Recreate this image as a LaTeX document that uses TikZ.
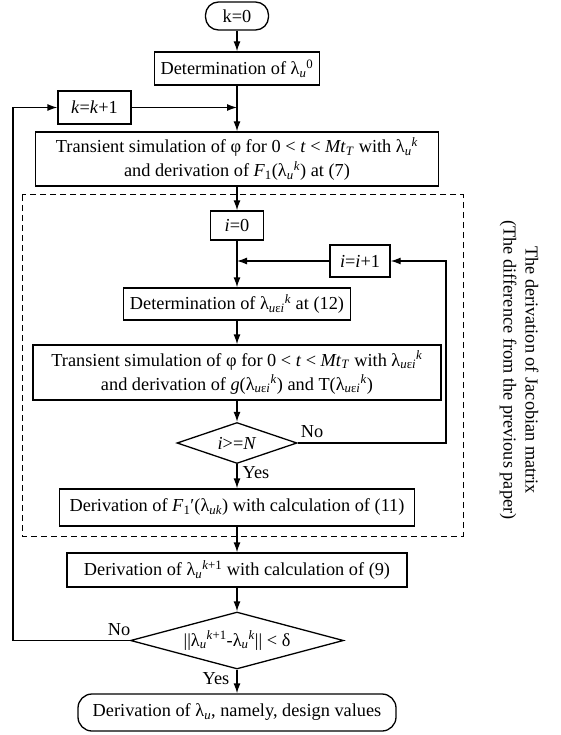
\documentclass[tikz,border=0pt]{standalone}
\usepackage{fontspec}
\setmainfont{Liberation Serif}
\usetikzlibrary{shapes.geometric,arrows.meta}
\newcommand{\mysub}[1]{\textsubscript{#1}}
\newcommand{\mysup}[1]{\textsuperscript{#1}}
\newcommand{\lu}{λ\mysub{\textit{u}}}
\newcommand{\luei}{λ\mysub{\textit{u}ε\textit{i}}}
\begin{document}
\begin{tikzpicture}[x=1pt,y=-1pt, font=\fontsize{18.3}{24}\selectfont, line width=1.3pt,
  box/.style={draw, rectangle, inner sep=0pt, align=center},
  term/.style={draw, rectangle, rounded corners=13pt, inner sep=0pt},
  dec/.style={draw, diamond, inner sep=0pt},
  arr/.style={-{Latex[length=10pt,width=7pt]}},
  lbl/.style={inner sep=0pt}]
\useasboundingbox (0,0) rectangle (560,735);
% dashed frame
\draw[line width=1pt, dash pattern=on 6pt off 4pt] (22,195) rectangle (463,536);
% nodes
\node[term, minimum width=63pt, minimum height=28pt] (k0) at (237,16) {k=0};
\node[box, minimum width=165pt, minimum height=33pt] (det0) at (237,68.5) {Determination of \lu\mysup{0}};
\node[box, minimum width=73pt, minimum height=33pt] (kk) at (94.5,107.5) {\textit{k}=\textit{k}+1};
\coordinate (jk) at (237,107.5);
\node[box, minimum width=403pt, minimum height=54pt] (tr1) at (237,159)
  {Transient simulation of φ for 0 < \textit{t} < \textit{Mt}\mysub{\textit{T}} with \lu\mysup{\textit{k}}\\
   and derivation of \textit{F}\mysub{1}(\lu\mysup{\textit{k}}) at (7)};
\node[box, minimum width=53pt, minimum height=29pt] (i0) at (237,225.5) {\textit{i}=0};
\node[box, minimum width=60pt, minimum height=32pt] (ii) at (360,261) {\textit{i}=\textit{i}+1};
\coordinate (ji) at (237,261);
\node[box, minimum width=227pt, minimum height=32pt] (deti) at (237,304) {Determination of \luei\mysup{\textit{k}} at (12)};
\node[box, minimum width=408pt, minimum height=55pt] (tr2) at (237,372.5)
  {Transient simulation of φ for 0 < \textit{t} < \textit{Mt}\mysub{\textit{T}} with \luei\mysup{\textit{k}}\\
   and derivation of \textit{g}(\luei\mysup{\textit{k}}) and T(\luei\mysup{\textit{k}})};
\node[dec, minimum width=120pt, minimum height=41pt] (d1) at (237,443) {};
\node[lbl] (d1t) at (d1.center) {\textit{i}>=\textit{N}};
\coordinate (c1) at (446,443);
\coordinate (c2) at (446,261);
\node[box, minimum width=355pt, minimum height=37pt] (f1d) at (237,507.5) {Derivation of \textit{F}\mysub{1}′(λ\mysub{\textit{uk}}) with calculation of (11)};
\node[box, minimum width=340pt, minimum height=34pt] (lk1) at (237,570) {Derivation of \lu\mysup{\textit{k}+1} with calculation of (9)};
\node[dec, minimum width=213pt, minimum height=57pt] (d2) at (237,640.5) {};
\node[lbl] (d2t) at (d2.center) {||\lu\mysup{\textit{k}+1}-\lu\mysup{\textit{k}}|| < δ};
\coordinate (c3) at (13,640.5);
\coordinate (c4) at (13,107.5);
\node[term, rounded corners=14pt, minimum width=318pt, minimum height=37pt] (fin) at (237,712.5) {Derivation of \lu, namely, design values};
% labels
\node[lbl] (no1) at (312,432) {No};
\node[lbl] (yes1) at (256,473) {Yes};
\node[lbl] (no2) at (119,630) {No};
\node[lbl] (yes2) at (216,679) {Yes};
\node[lbl, rotate=-90, align=center, font=\fontsize{18.3}{22}\selectfont] (side) at (519,370)
  {The derivation of Jacobian matrix\\(The difference from the previous paper)};
% connectors
\draw[arr] (k0) -- (det0);
\draw[arr] (det0) -- (tr1);
\draw[arr] (kk) -- (jk);
\draw[arr] (tr1) -- (i0);
\draw[arr] (i0) -- (deti);
\draw[arr] (ii) -- (ji);
\draw[arr] (deti) -- (tr2);
\draw[arr] (tr2) -- (d1);
\draw[arr] (d1.east) -- (c1) -- (c2) -- (ii);
\draw[arr] (d1) -- (f1d);
\draw[arr] (f1d) -- (lk1);
\draw[arr] (lk1) -- (d2);
\draw[arr] (d2.west) -- (c3) -- (c4) -- (kk);
\draw[arr] (d2) -- (fin);
\end{tikzpicture}
\end{document}
